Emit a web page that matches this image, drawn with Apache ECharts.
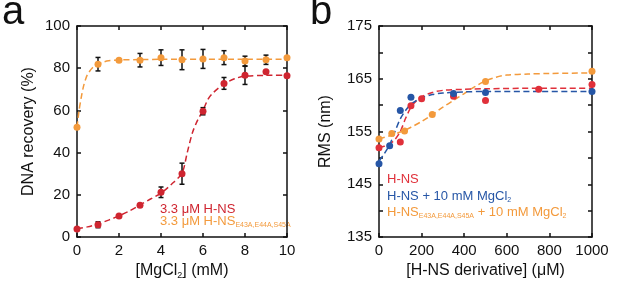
<!DOCTYPE html>
<html>
<head>
<meta charset="utf-8">
<script src="https://cdn.jsdelivr.net/npm/echarts@6/dist/echarts.min.js"></script>
<style>
  html, body { margin: 0; padding: 0; background: #fff; }
  #chart { width: 617px; height: 291px; }
</style>
</head>
<body>
<div id="chart"></div>
<script>
// panel a: DNA recovery vs MgCl2
var mgX = [0, 1, 2, 3, 4, 5, 6, 7, 8, 9, 10];
var recHNS = [3.8, 5.8, 10, 15, 21.2, 30, 59.6, 72.8, 76.6, 78.3, 76.4];
var errHNS = [0, 1.4, 0, 0, 2.5, 5, 1.7, 2.8, 4.3, 0, 0];
var recMut = [52, 81.9, 83.8, 83.8, 85, 84, 84.4, 85, 83.4, 84, 85];
var errMut = [0, 3.2, 0, 3.2, 3.7, 4.7, 4.5, 3.3, 2.3, 2.2, 0];

// dashed fits
var fitHNSx = [0, 0.5, 1, 1.5, 2, 2.5, 3, 3.5, 4, 4.5, 5, 5.25, 5.5, 5.75, 6, 6.25, 6.5, 7, 7.5, 8, 9, 10];
var fitHNSy = [3.8, 4.8, 6.2, 8, 10, 12.4, 15.2, 18, 20.8, 25, 30.3, 40, 49.5, 55.5, 60, 65.5, 68.5, 72.5, 75, 76.2, 76.6, 76.7];
var fitMutX = [0, 0.1, 0.2, 0.3, 0.4, 0.5, 0.75, 1, 1.25, 1.5, 2, 3, 4, 6, 8, 10];
var fitMutY = [52, 60, 66, 71, 74.5, 77, 80.3, 81.8, 82.9, 83.5, 83.9, 84.1, 84.2, 84.2, 84.2, 84.2];

// panel b: RMS vs H-NS derivative
var bHNSx = [0, 100, 150, 200, 350, 500, 750, 1000];
var bHNSy = [151.9, 153, 159.9, 161.2, 161.7, 160.9, 163, 163.9];
var bMgx = [0, 50, 100, 150, 350, 500, 1000];
var bMgy = [148.9, 152.3, 159, 161.5, 162.2, 162.4, 162.6];
var bMutx = [0, 60, 120, 250, 500, 1000];
var bMuty = [153.6, 154.6, 155.1, 158.2, 164.5, 166.4];

var fitBHNSx = [0, 25, 50, 75, 100, 125, 150, 175, 200, 250, 300, 400, 500, 750, 1000];
var fitBHNSy = [152, 152.2, 152.6, 153.5, 155, 157.5, 159.6, 160.8, 161.6, 162.4, 162.8, 163, 163.1, 163.2, 163.2];
var fitBMgx = [0, 25, 50, 75, 100, 125, 150, 200, 250, 300, 400, 500, 750, 1000];
var fitBMgy = [149.4, 150.8, 152.5, 155, 157.4, 159, 160.2, 161.4, 162, 162.3, 162.5, 162.6, 162.6, 162.6];
var fitBMutx = [0, 50, 100, 150, 200, 250, 300, 350, 400, 450, 500, 550, 600, 700, 800, 1000];
var fitBMuty = [153.6, 154.2, 154.9, 155.8, 156.9, 158.2, 159.6, 160.9, 162.2, 163.5, 164.6, 165.3, 165.7, 165.9, 166, 166.1];

var RED = '#cf2530';
var ORANGE = '#f39a3c';
var BLUE = '#2656a6';
var FONT = 'Liberation Sans';

var chart = echarts.init(document.getElementById('chart'));

function pairs(xs, ys) {
  return xs.map(function (x, i) { return [x, ys[i]]; });
}

function errBars(xs, ys, es, axis) {
  var data = [];
  xs.forEach(function (x, i) {
    if (es[i] > 0) data.push([x, ys[i] - es[i], ys[i] + es[i]]);
  });
  return {
    type: 'custom',
    xAxisIndex: axis,
    yAxisIndex: axis,
    z: 3,
    silent: true,
    data: data,
    renderItem: function (params, api) {
      var lo = api.coord([api.value(0), api.value(1)]);
      var hi = api.coord([api.value(0), api.value(2)]);
      var w = 2.5;
      var st = { stroke: '#111', lineWidth: 1.5 };
      return {
        type: 'group',
        children: [
          { type: 'line', shape: { x1: lo[0], y1: lo[1], x2: hi[0], y2: hi[1] }, style: st },
          { type: 'line', shape: { x1: lo[0] - w, y1: lo[1], x2: lo[0] + w, y2: lo[1] }, style: st },
          { type: 'line', shape: { x1: hi[0] - w, y1: hi[1], x2: hi[0] + w, y2: hi[1] }, style: st }
        ]
      };
    }
  };
}

function fitLine(xs, ys, color, axis) {
  return {
    type: 'line',
    xAxisIndex: axis,
    yAxisIndex: axis,
    data: pairs(xs, ys),
    smooth: 0.3,
    symbol: 'none',
    silent: true,
    z: 2,
    lineStyle: { color: color, width: 1.5, type: [6, 3.5] }
  };
}

function dots(xs, ys, color, axis) {
  return {
    type: 'scatter',
    xAxisIndex: axis,
    yAxisIndex: axis,
    data: pairs(xs, ys),
    symbolSize: 7,
    z: 4,
    itemStyle: { color: color, opacity: 1 }
  };
}

var lineStyleAx = { color: '#111', width: 1.5 };
var labelStyle = { color: '#111', fontSize: 15, fontFamily: FONT };
var nameStyle = {
  color: '#111', fontSize: 16, fontFamily: FONT,
  rich: { sub: { fontSize: 9, fontFamily: FONT, color: '#111', padding: [10, 0, 0, 0] } }
};

function xAx(grid, min, max, interval, name, gap) {
  return [{
    gridIndex: grid, type: 'value', min: min, max: max, interval: interval,
    position: 'bottom', name: name, nameLocation: 'middle', nameGap: gap,
    nameTextStyle: nameStyle,
    axisLine: { onZero: false, lineStyle: lineStyleAx },
    axisTick: { inside: true, length: 4, lineStyle: lineStyleAx },
    axisLabel: Object.assign({ margin: 6, formatter: function (v) { return String(v); } }, labelStyle),
    splitLine: { show: false }
  }, {
    gridIndex: grid, type: 'value', min: min, max: max, interval: interval,
    position: 'top',
    axisLine: { onZero: false, lineStyle: lineStyleAx },
    axisTick: { inside: true, length: 4, lineStyle: lineStyleAx },
    axisLabel: { show: false },
    splitLine: { show: false }
  }];
}

function yAx(grid, min, max, interval, name, gap, fmt) {
  return [{
    gridIndex: grid, type: 'value', min: min, max: max, interval: interval,
    position: 'left', name: name, nameLocation: 'middle', nameGap: gap,
    nameTextStyle: nameStyle,
    axisLine: { onZero: false, lineStyle: lineStyleAx },
    axisTick: { inside: true, length: 4, lineStyle: lineStyleAx },
    axisLabel: Object.assign({ margin: 7, formatter: fmt }, labelStyle),
    splitLine: { show: false }
  }, {
    gridIndex: grid, type: 'value', min: min, max: max, interval: interval,
    position: 'right',
    axisLine: { onZero: false, lineStyle: lineStyleAx },
    axisTick: { inside: true, length: 4, lineStyle: lineStyleAx },
    axisLabel: { show: false },
    splitLine: { show: false }
  }];
}

var xA = xAx(0, 0, 10, 2, '[MgCl{sub|2}] (mM)', 23);
var xB = xAx(1, 0, 1000, 200, '[H-NS derivative] (μM)', 23);
var yA = yAx(0, 0, 100, 20, 'DNA recovery (%)', 40);
var yB = yAx(1, 135, 175, 5, 'RMS (nm)', 45, function (v) {
  return (v - 135) % 10 === 0 ? String(v) : '';
});

var option = {
  animation: false,
  backgroundColor: '#fff',
  textStyle: { fontFamily: FONT },
  grid: [
    { left: 77, right: 330, top: 26, bottom: 54 },
    { left: 379, right: 25, top: 26, bottom: 54 }
  ],
  // axes 0,1 belong to panel a; 2,3 to panel b (index 2/3 are mirror axes)
  xAxis: [xA[0], xB[0], xA[1], xB[1]],
  yAxis: [yA[0], yB[0], yA[1], yB[1]],
  series: [
    fitLine(fitMutX, fitMutY, ORANGE, 0),
    fitLine(fitHNSx, fitHNSy, RED, 0),
    errBars(mgX, recMut, errMut, 0),
    errBars(mgX, recHNS, errHNS, 0),
    dots(mgX, recMut, ORANGE, 0),
    dots(mgX, recHNS, RED, 0),

    fitLine(fitBMutx, fitBMuty, ORANGE, 1),
    fitLine(fitBHNSx, fitBHNSy, '#e0303a', 1),
    fitLine(fitBMgx, fitBMgy, BLUE, 1),
    dots(bMutx, bMuty, ORANGE, 1),
    dots(bHNSx, bHNSy, '#e0303a', 1),
    dots(bMgx, bMgy, BLUE, 1)
  ],
  graphic: [
    { type: 'text', left: 2, top: -7, style: { text: 'a', fontSize: 40, fontFamily: FONT, fill: '#111' } },
    { type: 'text', left: 310, top: -7, style: { text: 'b', fontSize: 40, fontFamily: FONT, fill: '#111' } },
    {
      type: 'text', left: 160, top: 203,
      style: { text: '3.3 μM H-NS', fontSize: 13, fontFamily: FONT, fill: RED }
    },
    {
      type: 'text', left: 160, top: 215,
      style: {
        text: '3.3 μM H-NS{sub|E43A,E44A,S45A}', fontSize: 13, fontFamily: FONT, fill: ORANGE,
        rich: { sub: { fontSize: 7, fontFamily: FONT, fill: ORANGE, padding: [8, 0, 0, 0] } }
      }
    },
    {
      type: 'text', left: 387, top: 173,
      style: { text: 'H-NS', fontSize: 13, fontFamily: FONT, fill: '#e0303a' }
    },
    {
      type: 'text', left: 387, top: 190,
      style: {
        text: 'H-NS + 10 mM MgCl{sub|2}', fontSize: 13, fontFamily: FONT, fill: BLUE,
        rich: { sub: { fontSize: 7, fontFamily: FONT, fill: BLUE, padding: [8, 0, 0, 0] } }
      }
    },
    {
      type: 'text', left: 387, top: 206,
      style: {
        text: 'H-NS{sub|E43A,E44A,S45A} + 10 mM MgCl{sub|2}', fontSize: 13, fontFamily: FONT, fill: ORANGE,
        rich: { sub: { fontSize: 7, fontFamily: FONT, fill: ORANGE, padding: [8, 0, 0, 0] } }
      }
    }
  ]
};

chart.setOption(option);
</script>
</body>
</html>
